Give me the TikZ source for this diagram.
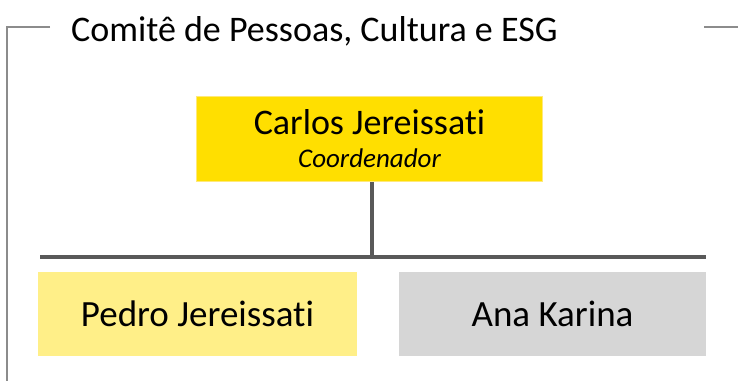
\documentclass[tikz,border=0pt]{standalone}
\usepackage{fontspec}
\setmainfont{Carlito}[Ligatures=NoCommon]
\usepackage{tikz}
\usepackage{xcolor}

\definecolor{gold}{HTML}{FFDF00}
\definecolor{goldrim}{HTML}{FFE97A}
\definecolor{paleyellow}{HTML}{FFEF88}
\definecolor{lightgrey}{HTML}{D6D6D6}
\definecolor{linegrey}{HTML}{595959}
\definecolor{framegrey}{HTML}{8C8C8C}

\tikzset{
	chiefbox/.style = {fill=gold, draw=goldrim, line width=1.5pt, minimum width=346pt, minimum height=85pt, align=center, inner sep=0pt, font=\fontsize{36}{33}\selectfont},
	memberbox/.style = {minimum height=84pt, inner sep=0pt, font=\fontsize{37}{40}\selectfont},
	orgline/.style = {draw=linegrey, line width=3.5pt},
	frameline/.style = {draw=framegrey, line width=2pt}
}

\begin{document}
\begin{tikzpicture} [x=1pt, y=-1pt]
	\useasboundingbox (0, 0) rectangle (738, 380);
		% outer frame
		\coordinate (frameA) at (50, 27);
		\coordinate (frameB) at (7, 27);
		\coordinate (frameC) at (7, 381);
		\coordinate (frameD) at (704, 27);
		\coordinate (frameE) at (739, 27);
		\draw [frameline] (frameA) -- (frameB) -- (frameC);
		\draw [frameline] (frameD) -- (frameE);
		\node [anchor=base west, inner sep=0pt, font=\fontsize{36}{40}\selectfont] (title) at (71, 41) {Comitê de Pessoas, Cultura e ESG};
	\node [chiefbox] (carlos) at (369.5, 139) {Carlos Jereissati\\ \fontsize{27}{33}\selectfont\itshape Coordenador};
			\node [memberbox, fill=paleyellow, minimum width=319pt] (pedro) at (197.5, 313.5) {Pedro Jereissati};
			\node [memberbox, fill=lightgrey, minimum width=307pt] (ana) at (552.5, 314) {Ana Karina};
	\coordinate (busL) at (40, 257);
	\coordinate (busR) at (706, 257);
		\draw [orgline] (busL) -- (busR);
		\draw [orgline] ([xshift=2.5pt]carlos.south) -- ([xshift=2.5pt]carlos.south |- busL);
%	\draw[help lines, step = 20pt] (0, 0) grid (738, 380);
	\end{tikzpicture}
\end{document}
